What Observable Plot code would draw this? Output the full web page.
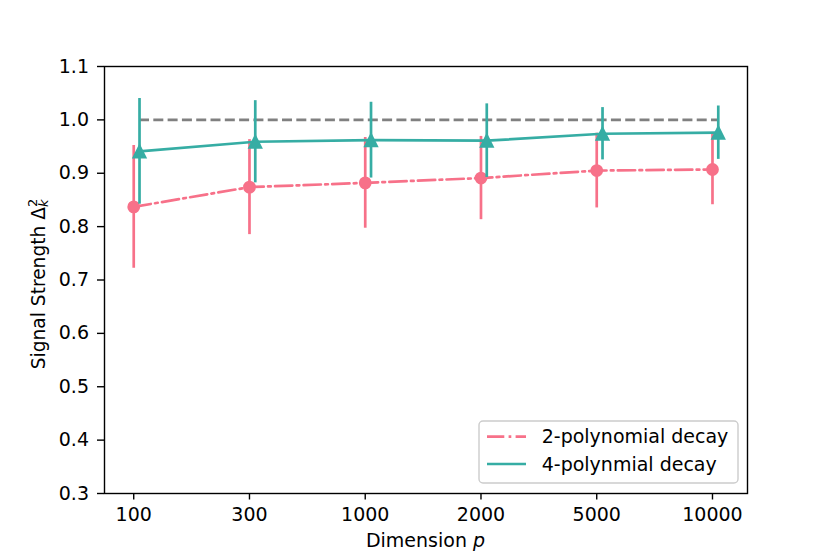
<!DOCTYPE html>
<html><head><meta charset="utf-8">
<script src="https://cdn.jsdelivr.net/npm/d3@7"></script>
<script src="https://cdn.jsdelivr.net/npm/@observablehq/plot@0.6"></script>
<style>body{margin:0;background:#fff} svg{font-family:"DejaVu Sans",sans-serif}</style>
</head><body><div id="chart"></div>
<script>
// ---- data ----
const dims = ["100", "300", "1000", "2000", "5000", "10000"];
const poly2Mean = [0.837, 0.874, 0.882, 0.891, 0.905, 0.907];
const poly2Err  = [0.115, 0.089, 0.085, 0.078, 0.070, 0.066];
const poly4Mean = [0.941, 0.959, 0.962, 0.961, 0.974, 0.976];
const poly4Err  = [0.099, 0.077, 0.071, 0.069, 0.049, 0.050];
const referenceLevel = 1.0;
const yTicks = [0.3, 0.4, 0.5, 0.6, 0.7, 0.8, 0.9, 1.0, 1.1];
const seriesLabels = ["2-polynomial decay", "4-polynmial decay"];

// ---- styles ----
const pink = "#f77189", teal = "#36ada4", gray = "#808080";
const offset4 = 0.05;
const lw = 2.7;
const dashDot = "17.3,4.3,2.7,4.3";
const fs = 19;

const p2 = dims.map((d, i) => ({i, mean: poly2Mean[i], err: poly2Err[i]}));
const p4 = dims.map((d, i) => ({i, mean: poly4Mean[i], err: poly4Err[i]}));

const mplTriangle = {
  draw(ctx, size) {
    const r = Math.sqrt(size / Math.PI);
    ctx.moveTo(0, -r); ctx.lineTo(r, r); ctx.lineTo(-r, r); ctx.closePath();
  }
};

const n = dims.length;
const span = (n - 1) + offset4;
const pad = span * 0.05;

const plot = Plot.plot({
  width: 830, height: 554,
  marginLeft: 104, marginRight: 83, marginTop: 66, marginBottom: 61,
  style: {fontFamily: "DejaVu Sans, sans-serif", fontSize: fs + "px", background: "white", color: "black"},
  x: {type: "linear", domain: [-pad, span + pad]},
  y: {type: "linear", domain: [0.3, 1.1]},
  marks: [
    Plot.ruleY([referenceLevel], {x1: offset4, x2: (n - 1) + offset4, stroke: gray, strokeWidth: lw, strokeDasharray: "10,4.3"}),
    Plot.ruleX(p2, {x: "i", y1: d => d.mean - d.err, y2: d => d.mean + d.err, stroke: pink, strokeWidth: lw}),
    Plot.line(p2, {x: "i", y: "mean", stroke: pink, strokeWidth: lw, strokeDasharray: dashDot}),
    Plot.dot(p2, {x: "i", y: "mean", r: 5.5, fill: pink, stroke: pink, strokeWidth: 1.8}),
    Plot.ruleX(p4, {x: d => d.i + offset4, y1: d => d.mean - d.err, y2: d => d.mean + d.err, stroke: teal, strokeWidth: lw}),
    Plot.line(p4, {x: d => d.i + offset4, y: "mean", stroke: teal, strokeWidth: lw}),
    Plot.dot(p4, {x: d => d.i + offset4, y: "mean", r: 6.2, symbol: mplTriangle, fill: teal, stroke: teal, strokeWidth: 1.8}),
    Plot.frame({stroke: "black", strokeWidth: 1.4}),
    Plot.axisX(d3.range(n), {tickFormat: i => dims[i], tickSize: 6.5, tickPadding: 7.5, strokeWidth: 1.4, fontSize: fs, label: null}),
    Plot.axisY(yTicks, {tickFormat: d3.format(".1f"), tickSize: 7, tickPadding: 8.5, strokeWidth: 1.4, fontSize: fs, label: null})
  ]
});
document.getElementById("chart").appendChild(plot);

const svg = d3.select(plot);

// y label with Δ_k^2
const gy = svg.append("g").attr("transform", "translate(44.5,284) rotate(-90)");
const ty = gy.append("text").attr("text-anchor", "middle").attr("font-size", 18.6).attr("fill", "black");
ty.append("tspan").text("Signal Strength Δ");
ty.append("tspan").attr("font-size", 13).attr("dy", -8).text("2");
ty.append("tspan").attr("font-size", 13).attr("font-style", "italic").attr("dx", -8.2).attr("dy", 11).text("k");

// x label
const tx = svg.append("text").attr("x", 425.5).attr("y", 546.7).attr("text-anchor", "middle")
  .attr("font-size", fs).attr("fill", "black");
tx.append("tspan").text("Dimension ");
tx.append("tspan").attr("font-style", "italic").text("p");

// legend
const lg = svg.append("g");
lg.append("rect").attr("x", 479).attr("y", 421).attr("width", 259).attr("height", 62).attr("rx", 4)
  .attr("fill", "white").attr("fill-opacity", 0.8).attr("stroke", "#cccccc").attr("stroke-width", 1.4);
const entries = [
  {label: seriesLabels[0], color: pink, dash: dashDot},
  {label: seriesLabels[1], color: teal, dash: null}
];
entries.forEach((e, k) => {
  const y = 436.7 + k * 27.3;
  lg.append("line").attr("x1", 487).attr("x2", 526).attr("y1", y).attr("y2", y)
    .attr("stroke", e.color).attr("stroke-width", lw).attr("stroke-dasharray", e.dash);
  lg.append("text").attr("x", 541.7).attr("y", y).attr("dy", "0.35em").attr("font-size", fs)
    .attr("text-anchor", "start").attr("fill", "black").text(e.label);
});
</script>
</body></html>
